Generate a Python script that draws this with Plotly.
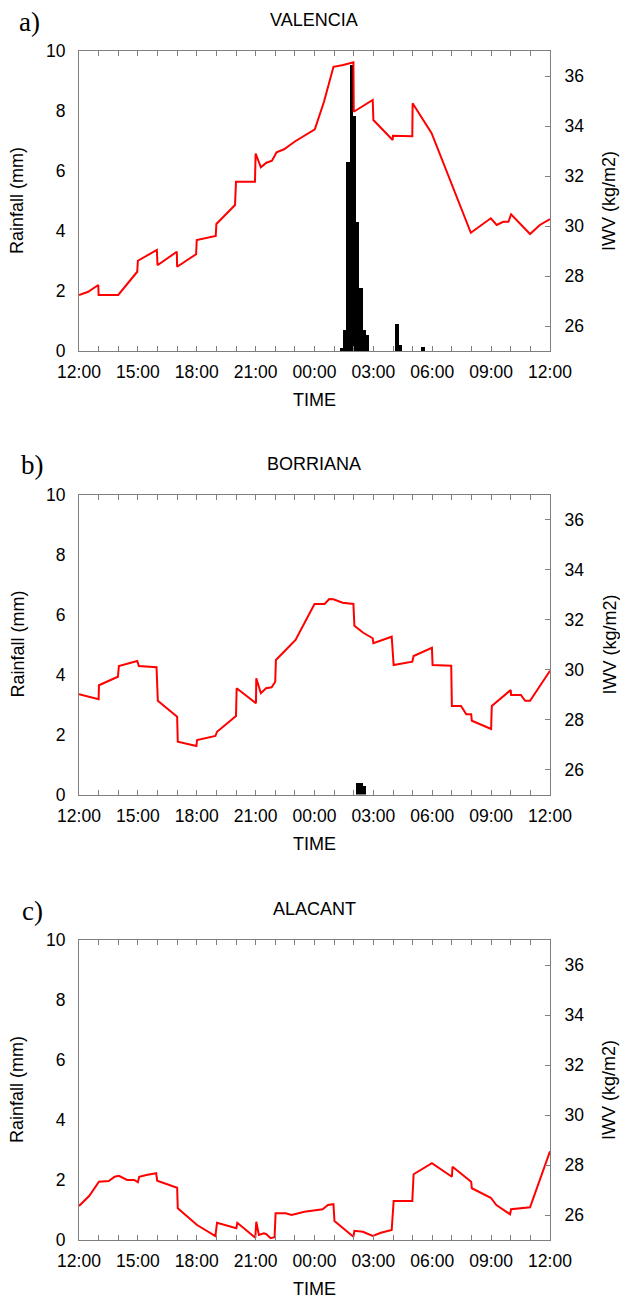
import plotly.graph_objects as go
from datetime import datetime, timedelta

# ---------------- data ----------------
stations = ["VALENCIA", "BORRIANA", "ALACANT"]
panel_labels = ["a)", "b)", "c)"]

a_time = ["12:00","12:28","12:59","13:00","14:00","14:58","15:00","15:58","16:00","16:59",
          "17:00","17:58","18:00","18:58","19:00","19:57","20:00","20:58","21:00","21:16",
          "21:33","21:50","22:04","22:27","23:00","00:01","00:29","00:58","01:28","01:59",
          "02:00","02:58","03:00","03:59","04:00","04:59","05:00","05:58","07:58","08:59",
          "09:17","09:37","09:53","10:01","10:59","11:29","12:00"]
a_iwv = [27.24,27.37,27.64,27.24,27.24,28.17,28.61,29.04,28.43,28.97,
         28.37,28.87,29.44,29.60,30.08,30.84,31.77,31.77,32.90,32.35,
         32.53,32.61,32.95,33.07,33.38,33.87,34.97,36.37,36.44,36.55,
         34.57,35.04,34.24,33.44,33.61,33.59,34.91,33.71,29.73,30.31,
         30.04,30.17,30.17,30.47,29.68,30.04,30.28]
a_rain_time = ["01:22","01:32","01:42","01:52","02:02","02:12","02:22","02:32","02:42",
               "04:12","04:22","05:32"]
a_rain = [0.09,0.70,6.31,9.53,7.83,4.31,2.11,0.70,0.53,0.90,0.20,0.12]

b_time = ["12:00","13:00","13:01","13:59","14:02","14:58","15:03","15:57","16:01","17:00",
          "17:02","17:59","18:01","18:57","19:02","20:00","20:02","21:01","21:02","21:16",
          "21:32","21:49","22:00","22:02","22:32","23:02","00:00","00:31","00:45","00:58",
          "01:26","01:59","02:02","02:29","02:58","03:00","03:56","04:02","04:59","05:03",
          "05:59","06:01","06:58","07:00","07:28","07:44","07:59","08:01","09:00","09:02",
          "10:00","10:01","10:31","10:44","10:59","12:00"]
b_iwv = [29.01,28.81,29.37,29.71,30.14,30.34,30.14,30.09,28.75,28.11,
         27.11,26.94,27.18,27.34,27.51,28.14,29.25,28.65,29.65,29.05,
         29.25,29.29,29.51,30.38,30.78,31.18,32.62,32.62,32.82,32.81,
         32.67,32.62,31.75,31.47,31.25,31.05,31.31,30.18,30.31,30.54,
         30.87,30.18,30.15,28.54,28.54,28.21,28.21,27.95,27.62,28.54,
         29.18,28.98,28.98,28.75,28.75,29.95]
b_rain_time = ["02:12","02:22","02:32"]
b_rain = [0.39,0.39,0.29]

c_time = ["12:00","12:31","13:01","13:31","13:49","14:02","14:27","14:49","15:00","15:04",
          "15:26","15:56","15:59","17:00","17:02","18:01","18:57","19:02","20:01","20:04",
          "20:59","21:02","21:10","21:25","21:32","21:46","21:58","22:01","22:32","22:50",
          "23:29","00:25","00:41","00:58","01:01","01:59","02:02","02:28","02:58","03:23",
          "03:56","04:02","04:59","05:03","05:59","07:00","07:02","07:59","08:01","08:59",
          "09:16","09:58","10:01","10:59","12:00"]
c_iwv = [26.36,26.76,27.33,27.36,27.53,27.57,27.40,27.40,27.31,27.53,
         27.60,27.67,27.37,27.09,26.27,25.60,25.16,25.69,25.47,25.69,
         25.09,25.73,25.20,25.27,25.24,25.07,25.11,26.07,26.07,26.00,
         26.13,26.23,26.40,26.43,25.76,25.13,25.37,25.33,25.16,25.29,
         25.40,26.56,26.56,27.63,28.07,27.53,27.93,27.33,27.07,26.69,
         26.40,26.03,26.23,26.31,28.55]
c_rain_time = []
c_rain = []

rain_ticks = [0, 2, 4, 6, 8, 10]
iwv_ticks = [26, 28, 30, 32, 34, 36]
x_start, x_end = "2000-01-01 12:00", "2000-01-02 12:00"


def to_datetimes(times):
    """HH:MM strings in chronological order, starting from 12:00 of day 1."""
    out, day, prev = [], 0, 12 * 60
    for t in times:
        h, m = map(int, t.split(":"))
        mins = h * 60 + m
        if mins < prev:
            day += 1
        prev = mins
        out.append(datetime(2000, 1, 1) + timedelta(days=day, minutes=mins))
    return out


series = [
    (a_time, a_iwv, a_rain_time, a_rain),
    (b_time, b_iwv, b_rain_time, b_rain),
    (c_time, c_iwv, c_rain_time, c_rain),
]

# ---------------- layout geometry ----------------
W, H = 620, 1299
x0, x1 = 79, 550
tops = [51, 494.5, 940]
ph = 300
gray = "#7f7f7f"
font_family = "Liberation Sans, Arial, sans-serif"
tick_size = 17.5
title_size = 18

fig = go.Figure()
layout = dict(
    width=W, height=H, margin=dict(l=0, r=0, t=0, b=0, autoexpand=False),
    paper_bgcolor="white", plot_bgcolor="white", showlegend=False,
    font=dict(family=font_family, size=tick_size, color="#000000"),
    bargap=0, hovermode=False,
)
annotations = []

for i, (tt, iwv, rt, rain) in enumerate(series):
    xa = f"x{i+1}" if i else "x"
    yl = f"y{2*i+1}" if i else "y"
    yr = f"y{2*i+2}"
    top = tops[i]
    dom = [1 - (top + ph) / H, 1 - top / H]

    fig.add_trace(go.Bar(
        x=to_datetimes(rt), y=rain, width=[600000] * len(rain),
        marker=dict(color="black", line=dict(width=0)),
        xaxis=xa, yaxis=yl))
    fig.add_trace(go.Scatter(
        x=to_datetimes(tt), y=iwv, mode="lines",
        line=dict(color="#ff0000", width=2),
        xaxis=xa, yaxis=yr))

    xkey = f"xaxis{i+1}" if i else "xaxis"
    ylkey = f"yaxis{2*i+1}" if i else "yaxis"
    yrkey = f"yaxis{2*i+2}"

    layout[xkey] = dict(
        type="date", domain=[x0 / W, x1 / W], anchor=yl, automargin=False,
        range=[x_start, x_end], tick0=x_start, dtick=3 * 3600000,
        tickformat="%H:%M", ticks="inside", ticklen=5, tickcolor=gray,
        minor=dict(dtick=3600000, ticks="inside", ticklen=3, tickcolor=gray),
        showline=True, linecolor=gray, linewidth=1, mirror="allticks",
        showgrid=False, zeroline=False, ticklabelstandoff=5,
        tickfont=dict(size=tick_size, color="#000000"),
    )
    layout[ylkey] = dict(
        domain=dom, anchor=xa, range=[0, 10], tickvals=rain_ticks, automargin=False,
        ticks="", showline=True, linecolor=gray, linewidth=1,
        showgrid=False, zeroline=False, ticklabelstandoff=9,
        tickfont=dict(size=tick_size, color="#000000"),
    )
    layout[yrkey] = dict(
        domain=dom, anchor=xa, overlaying=yl, side="right", range=[25, 37],
        tickvals=iwv_ticks, ticks="inside", ticklen=5, tickcolor=gray, automargin=False,
        showline=True, linecolor=gray, linewidth=1,
        showgrid=False, zeroline=False, ticklabelstandoff=10,
        tickfont=dict(size=tick_size, color="#000000"),
    )

    mid_y = 1 - (top + ph / 2) / H
    annotations += [
        dict(text=stations[i], x=(x0 + x1) / 2 / W, y=1 - (top - 31) / H,
             xref="paper", yref="paper", showarrow=False,
             xanchor="center", yanchor="middle", font=dict(size=title_size)),
        dict(text=panel_labels[i], x=(29 + 3 * (i > 0)) / W, y=1 - (top - 29) / H,
             xref="paper", yref="paper", showarrow=False,
             xanchor="center", yanchor="middle",
             font=dict(size=27, family="Liberation Serif, Times New Roman, serif")),
        dict(text="Rainfall (mm)", x=17 / W, y=mid_y, textangle=-90,
             xref="paper", yref="paper", showarrow=False,
             xanchor="center", yanchor="middle", font=dict(size=title_size)),
        dict(text="IWV (kg/m2)", x=609 / W, y=mid_y, textangle=-90,
             xref="paper", yref="paper", showarrow=False,
             xanchor="center", yanchor="middle", font=dict(size=title_size)),
        dict(text="TIME", x=(x0 + x1) / 2 / W, y=1 - (top + ph + 49) / H,
             xref="paper", yref="paper", showarrow=False,
             xanchor="center", yanchor="middle", font=dict(size=title_size)),
    ]

layout["annotations"] = annotations
fig.update_layout(**layout)
fig.write_html(
    "out.html",
    config={"displayModeBar": False, "staticPlot": True},
    post_script="document.body.style.margin='0';document.body.style.padding='0';"
                "document.documentElement.style.overflow='hidden';",
)
